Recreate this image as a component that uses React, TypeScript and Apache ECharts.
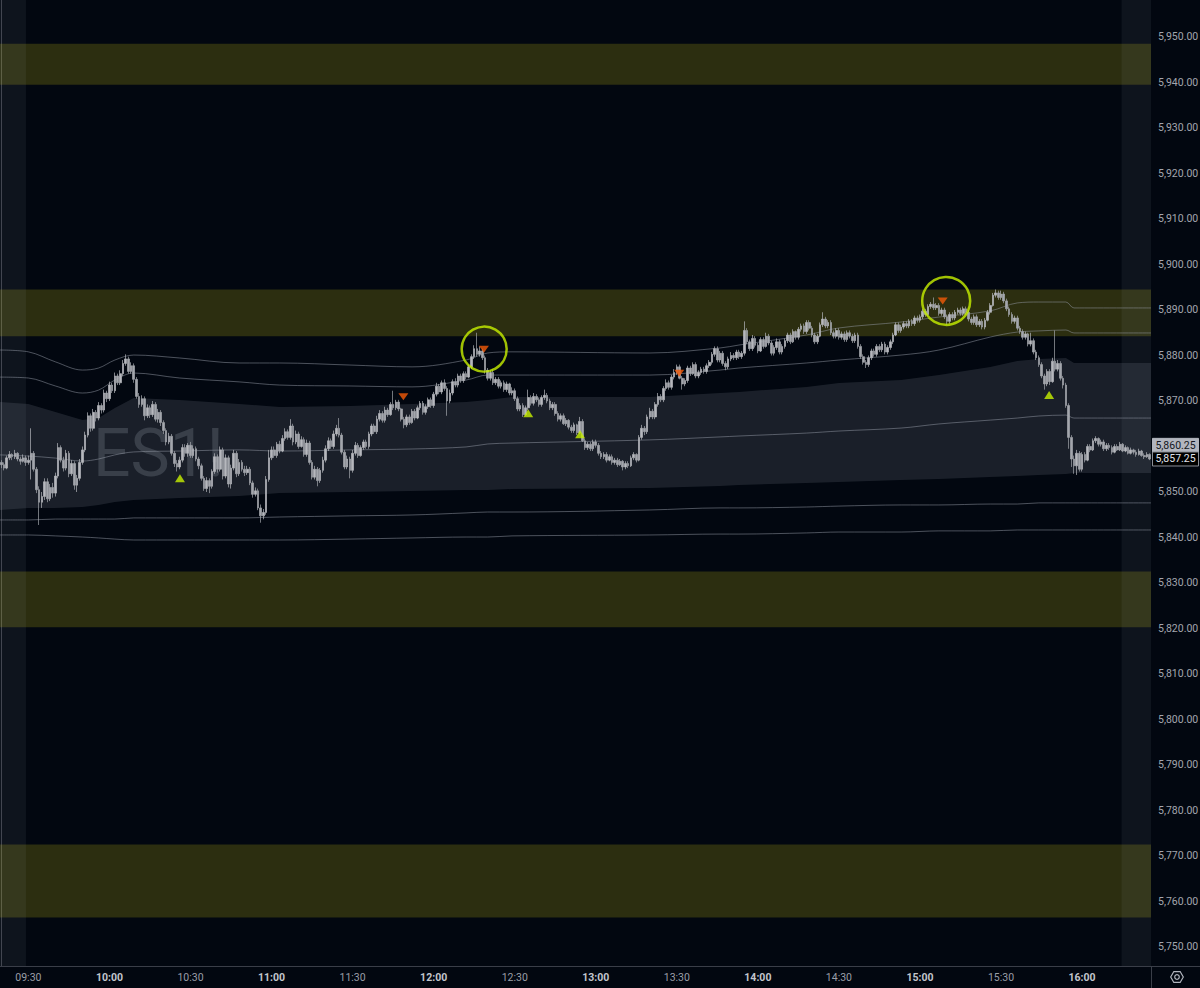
import React, { useEffect, useRef } from "react";
import * as echarts from "echarts";

// ---------- time axis ----------
const START_MINUTE = 9 * 60 + 20; // first bar 09:20
const BAR_COUNT = 426;            // 09:20 .. 16:25, 1-minute bars
const TIMES: string[] = Array.from({ length: BAR_COUNT }, (_, i) => {
  const m = START_MINUTE + i;
  return String(Math.floor(m / 60)).padStart(2, "0") + ":" + String(m % 60).padStart(2, "0");
});
const TICK_LABELS = ["09:30", "10:00", "10:30", "11:00", "11:30", "12:00", "12:30", "13:00", "13:30", "14:00", "14:30", "15:00", "15:30", "16:00"];

// ---------- 1-minute OHLC ----------
const OPEN = [
  5856.5, 5856.0, 5855.25, 5857.5, 5858.25, 5857.75, 5858.5, 5857.25, 5856.75, 5857.5,
  5856.5, 5857.0, 5858.5, 5855.0, 5850.5, 5847.75, 5849.0, 5852.25, 5848.5, 5851.0,
  5849.75, 5853.5, 5859.75, 5857.0, 5855.25, 5858.5, 5854.0, 5856.25, 5851.5, 5853.0,
  5856.5, 5859.25, 5862.5, 5866.75, 5864.0, 5867.5, 5866.25, 5869.0, 5868.0, 5871.75,
  5870.5, 5873.5, 5872.25, 5875.5, 5874.0, 5876.0, 5878.25, 5879.25, 5876.5, 5877.75,
  5874.75, 5871.0, 5869.25, 5870.5, 5866.75, 5868.5, 5867.0, 5869.25, 5866.0, 5867.5,
  5865.25, 5863.5, 5861.0, 5862.25, 5858.5, 5856.25, 5855.5, 5857.0, 5859.75, 5858.5,
  5860.25, 5858.0, 5859.5, 5857.25, 5855.75, 5853.0, 5850.75, 5852.5, 5851.25, 5854.5,
  5857.75, 5855.0, 5859.25, 5853.5, 5857.5, 5851.75, 5855.25, 5858.5, 5854.0, 5856.5,
  5855.0, 5854.25, 5855.0, 5852.0, 5849.5, 5850.25, 5846.5, 5844.75, 5845.5, 5852.75,
  5857.5, 5859.25, 5858.0, 5860.5, 5859.0, 5861.75, 5863.25, 5862.0, 5864.5, 5861.0,
  5862.75, 5860.0, 5861.5, 5858.25, 5860.75, 5856.5, 5853.25, 5855.0, 5852.5, 5854.75,
  5857.0, 5859.5, 5861.25, 5860.0, 5862.75, 5864.0, 5862.5, 5858.75, 5855.5, 5857.25,
  5854.75, 5858.5, 5860.25, 5858.0, 5859.75, 5861.0, 5860.0, 5862.75, 5864.5, 5863.25,
  5866.0, 5867.25, 5865.75, 5868.0, 5867.0, 5869.25, 5868.5, 5869.75, 5868.25, 5866.0,
  5864.75, 5866.5, 5865.25, 5867.75, 5866.25, 5868.5, 5869.5, 5867.5, 5868.75, 5870.25,
  5869.0, 5871.5, 5873.25, 5872.0, 5874.0, 5872.75, 5870.0, 5871.75, 5874.25, 5873.5,
  5875.5, 5874.5, 5876.0, 5875.25, 5877.5, 5879.75, 5881.5, 5880.25, 5881.0, 5879.5,
  5876.75, 5875.0, 5876.25, 5874.0, 5874.75, 5873.25, 5874.0, 5872.5, 5873.75, 5871.75,
  5872.25, 5870.5, 5868.25, 5869.0, 5867.0, 5868.5, 5870.75, 5869.5, 5871.0, 5870.25,
  5869.25, 5870.75, 5871.25, 5870.0, 5868.5, 5869.25, 5867.25, 5866.0, 5866.75, 5865.0,
  5865.75, 5864.25, 5863.5, 5864.75, 5863.0, 5865.5, 5861.25, 5859.75, 5860.5, 5859.5,
  5861.0, 5860.25, 5858.5, 5857.75, 5858.25, 5857.0, 5857.75, 5856.5, 5857.0, 5856.0,
  5856.75, 5855.5, 5856.25, 5855.75, 5857.5, 5858.25, 5857.0, 5862.0, 5864.0, 5863.25,
  5866.5, 5867.75, 5866.5, 5869.25, 5871.0, 5870.25, 5872.75, 5874.0, 5873.0, 5875.25,
  5876.25, 5877.5, 5875.0, 5873.75, 5874.5, 5877.25, 5876.0, 5878.0, 5875.5, 5876.25,
  5877.0, 5876.5, 5877.75, 5878.5, 5880.25, 5881.5, 5879.0, 5880.5, 5878.25, 5877.5,
  5879.25, 5880.0, 5879.5, 5880.75, 5879.75, 5880.5, 5885.5, 5883.0, 5881.5, 5883.75,
  5882.25, 5881.0, 5883.5, 5882.0, 5884.25, 5882.75, 5880.5, 5881.75, 5883.0, 5880.75,
  5882.0, 5883.25, 5884.5, 5883.0, 5885.25, 5884.0, 5885.75, 5886.5, 5885.25, 5887.25,
  5886.0, 5884.5, 5883.0, 5884.25, 5886.75, 5888.0, 5886.5, 5887.25, 5885.0, 5884.25,
  5885.5, 5884.0, 5884.75, 5883.5, 5885.0, 5884.25, 5883.25, 5884.5, 5882.0, 5879.75,
  5878.5, 5878.0, 5879.5, 5881.0, 5880.25, 5882.0, 5881.25, 5882.5, 5880.75, 5881.75,
  5883.0, 5884.5, 5886.75, 5885.5, 5886.25, 5887.0, 5886.5, 5887.5, 5887.0, 5888.25,
  5887.75, 5888.5, 5889.75, 5889.0, 5890.75, 5891.25, 5890.5, 5891.0, 5889.25, 5890.0,
  5888.5, 5887.5, 5889.0, 5888.25, 5889.5, 5890.0, 5889.25, 5890.25, 5889.5, 5888.0,
  5887.25, 5888.5, 5886.75, 5887.5, 5886.25, 5887.75, 5889.5, 5891.0, 5893.25, 5893.75,
  5892.75, 5893.5, 5892.0, 5890.25, 5889.0, 5887.5, 5888.25, 5886.0, 5885.25, 5884.0,
  5884.75, 5882.5, 5883.25, 5880.75, 5879.5, 5878.0, 5875.5, 5873.75, 5876.5, 5874.25,
  5878.75, 5877.0, 5878.25, 5875.0, 5873.5, 5869.0, 5862.0, 5857.25, 5855.75, 5858.5,
  5855.0, 5858.25, 5857.0, 5860.0, 5859.25, 5861.25, 5861.75, 5860.5, 5861.0, 5859.5,
  5860.25, 5859.75, 5858.75, 5860.0, 5859.25, 5860.5, 5859.0, 5859.75, 5858.5, 5859.25,
  5858.75, 5858.25, 5859.0, 5858.0, 5857.75, 5858.25,
];
const HIGH = [
  5857.0, 5856.5, 5858.0, 5859.0, 5858.5, 5859.25, 5858.75, 5857.75, 5858.25, 5858.0,
  5858.0, 5864.0, 5859.0, 5855.5, 5851.25, 5850.0, 5853.0, 5853.0, 5851.75, 5852.0,
  5854.25, 5860.75, 5860.25, 5857.75, 5859.25, 5859.0, 5857.0, 5856.75, 5853.75, 5857.25,
  5860.0, 5863.25, 5867.5, 5867.25, 5868.25, 5868.0, 5869.75, 5869.5, 5872.5, 5872.25,
  5874.25, 5874.0, 5876.25, 5876.0, 5876.75, 5879.0, 5880.25, 5879.75, 5878.5, 5878.25,
  5875.25, 5871.75, 5871.25, 5871.0, 5869.25, 5869.0, 5870.0, 5869.75, 5868.25, 5868.0,
  5865.75, 5864.0, 5863.0, 5862.75, 5859.0, 5857.0, 5857.75, 5860.5, 5860.5, 5860.75,
  5861.0, 5860.25, 5860.0, 5857.75, 5856.25, 5853.5, 5853.25, 5853.0, 5855.0, 5858.5,
  5858.25, 5860.0, 5859.75, 5858.25, 5858.0, 5856.0, 5859.25, 5859.0, 5857.25, 5857.0,
  5855.75, 5855.75, 5855.5, 5852.5, 5851.0, 5850.75, 5847.25, 5846.25, 5853.5, 5859.25,
  5860.0, 5860.0, 5861.0, 5861.25, 5862.5, 5864.0, 5863.75, 5866.0, 5865.0, 5863.5,
  5863.25, 5862.25, 5862.0, 5861.5, 5861.25, 5857.0, 5855.75, 5855.5, 5855.25, 5857.75,
  5860.25, 5862.0, 5861.75, 5863.5, 5864.75, 5866.25, 5863.0, 5859.25, 5858.0, 5857.75,
  5859.25, 5861.0, 5860.75, 5860.25, 5861.5, 5861.5, 5863.25, 5865.0, 5865.0, 5866.75,
  5868.0, 5867.75, 5868.75, 5868.5, 5869.75, 5872.25, 5870.25, 5870.25, 5868.5, 5866.5,
  5867.0, 5867.0, 5868.25, 5868.25, 5869.0, 5870.0, 5870.0, 5869.25, 5870.75, 5870.75,
  5872.0, 5874.0, 5873.75, 5874.5, 5874.75, 5873.25, 5872.5, 5874.75, 5875.0, 5876.0,
  5876.0, 5876.5, 5876.5, 5878.0, 5880.25, 5882.25, 5885.0, 5882.0, 5881.5, 5880.0,
  5877.25, 5876.75, 5877.0, 5875.25, 5875.25, 5874.5, 5874.5, 5874.25, 5874.0, 5873.0,
  5872.75, 5871.0, 5869.5, 5869.5, 5869.0, 5872.5, 5871.25, 5871.75, 5871.5, 5870.75,
  5871.25, 5872.5, 5871.75, 5870.5, 5869.75, 5869.75, 5867.75, 5867.25, 5867.25, 5866.25,
  5866.0, 5864.75, 5865.25, 5865.0, 5866.5, 5866.0, 5861.75, 5861.0, 5861.0, 5861.5,
  5861.5, 5860.75, 5859.0, 5858.75, 5858.75, 5858.25, 5858.25, 5857.5, 5857.5, 5857.25,
  5857.0, 5856.75, 5856.75, 5858.0, 5858.75, 5858.5, 5862.5, 5864.75, 5864.5, 5867.0,
  5868.5, 5868.25, 5869.75, 5871.75, 5871.5, 5873.25, 5874.75, 5874.5, 5875.75, 5877.0,
  5878.0, 5878.0, 5875.5, 5875.0, 5877.75, 5877.75, 5878.5, 5878.5, 5876.75, 5877.5,
  5877.5, 5878.25, 5879.0, 5880.75, 5882.0, 5882.0, 5881.0, 5881.0, 5878.75, 5879.75,
  5880.75, 5880.5, 5881.25, 5881.25, 5881.0, 5887.5, 5886.0, 5883.5, 5884.5, 5884.25,
  5882.75, 5884.0, 5884.0, 5885.0, 5884.75, 5883.25, 5882.25, 5883.75, 5883.5, 5882.5,
  5883.75, 5885.0, 5885.0, 5885.75, 5885.5, 5886.25, 5887.0, 5887.0, 5887.75, 5887.75,
  5886.5, 5885.0, 5884.75, 5887.25, 5889.5, 5888.5, 5887.75, 5887.75, 5885.5, 5886.0,
  5886.0, 5885.25, 5885.25, 5885.5, 5885.5, 5884.75, 5885.0, 5885.0, 5882.5, 5880.25,
  5879.0, 5880.0, 5881.5, 5881.5, 5882.5, 5882.5, 5883.0, 5883.0, 5882.25, 5883.5,
  5885.0, 5887.25, 5887.25, 5886.75, 5887.5, 5887.5, 5888.0, 5888.0, 5888.75, 5888.75,
  5889.0, 5890.25, 5890.25, 5891.25, 5891.75, 5892.75, 5891.5, 5891.5, 5890.5, 5890.5,
  5889.0, 5889.5, 5889.5, 5890.0, 5890.5, 5890.5, 5890.75, 5890.75, 5890.0, 5888.5,
  5889.0, 5889.0, 5888.0, 5888.0, 5888.25, 5890.0, 5891.5, 5893.75, 5894.5, 5894.25,
  5894.25, 5894.0, 5892.5, 5890.75, 5889.5, 5888.75, 5888.75, 5886.5, 5885.75, 5885.25,
  5885.0, 5885.0, 5883.75, 5881.25, 5880.0, 5878.5, 5876.0, 5877.0, 5877.0, 5879.5,
  5885.5, 5879.0, 5878.75, 5875.5, 5874.0, 5869.5, 5862.5, 5858.0, 5859.25, 5859.0,
  5858.75, 5858.75, 5860.5, 5860.5, 5861.75, 5862.25, 5862.0, 5861.5, 5861.5, 5860.75,
  5860.75, 5860.25, 5860.5, 5860.5, 5861.0, 5860.75, 5860.25, 5860.0, 5859.75, 5859.5,
  5859.25, 5859.5, 5859.25, 5858.5, 5858.75, 5858.5,
];
const LOW = [
  5855.25, 5854.75, 5855.0, 5857.0, 5857.0, 5857.25, 5856.75, 5856.0, 5856.5, 5855.75,
  5856.0, 5852.75, 5854.5, 5849.75, 5842.75, 5846.5, 5848.25, 5847.75, 5848.0, 5848.75,
  5849.0, 5853.0, 5856.5, 5854.5, 5854.75, 5853.25, 5853.5, 5850.5, 5850.0, 5852.5,
  5856.0, 5858.75, 5862.0, 5863.25, 5863.5, 5865.5, 5865.75, 5867.25, 5867.5, 5869.75,
  5870.0, 5871.75, 5871.75, 5873.5, 5873.5, 5875.5, 5877.75, 5876.0, 5876.0, 5874.0,
  5870.5, 5868.5, 5868.75, 5865.75, 5866.25, 5866.25, 5866.5, 5865.5, 5865.25, 5864.5,
  5862.75, 5860.25, 5860.5, 5858.0, 5855.5, 5854.5, 5855.0, 5856.5, 5857.75, 5857.75,
  5857.5, 5857.5, 5856.75, 5855.0, 5852.5, 5850.25, 5850.0, 5849.75, 5850.75, 5854.0,
  5854.25, 5854.5, 5852.75, 5853.0, 5851.0, 5850.75, 5854.75, 5853.25, 5853.5, 5854.5,
  5853.5, 5853.75, 5851.5, 5848.75, 5849.0, 5846.0, 5843.25, 5844.0, 5845.0, 5852.25,
  5857.0, 5857.5, 5857.5, 5858.5, 5858.75, 5861.25, 5861.5, 5861.5, 5860.25, 5860.5,
  5859.5, 5859.75, 5857.75, 5857.75, 5856.0, 5852.75, 5852.75, 5851.25, 5852.0, 5854.25,
  5856.5, 5859.0, 5859.5, 5859.5, 5862.25, 5862.0, 5858.25, 5855.0, 5855.0, 5853.0,
  5854.25, 5858.0, 5857.5, 5857.75, 5859.25, 5859.5, 5859.5, 5862.25, 5862.75, 5862.75,
  5865.5, 5865.25, 5865.25, 5866.5, 5866.75, 5868.0, 5868.0, 5867.75, 5865.5, 5864.0,
  5864.25, 5864.75, 5865.0, 5865.75, 5866.0, 5868.0, 5867.0, 5867.0, 5868.25, 5868.5,
  5868.5, 5871.0, 5871.5, 5871.5, 5872.25, 5866.75, 5869.5, 5871.25, 5873.0, 5873.0,
  5874.0, 5874.0, 5874.75, 5875.0, 5877.0, 5879.25, 5879.75, 5879.75, 5879.0, 5876.0,
  5874.5, 5874.5, 5873.5, 5873.5, 5872.75, 5872.75, 5872.0, 5872.0, 5871.25, 5871.25,
  5870.0, 5867.75, 5867.75, 5866.5, 5866.75, 5868.0, 5869.0, 5869.0, 5869.75, 5868.75,
  5868.75, 5870.25, 5869.5, 5868.0, 5868.0, 5866.75, 5865.5, 5865.5, 5864.75, 5864.5,
  5863.75, 5863.0, 5863.0, 5862.5, 5862.75, 5861.0, 5859.25, 5859.25, 5859.0, 5859.0,
  5859.75, 5858.0, 5857.25, 5857.25, 5856.5, 5856.75, 5856.0, 5856.0, 5855.5, 5855.75,
  5854.75, 5855.0, 5855.25, 5855.5, 5857.0, 5856.5, 5856.75, 5861.5, 5862.5, 5862.75,
  5866.0, 5866.0, 5866.0, 5868.75, 5869.75, 5869.75, 5872.25, 5872.5, 5872.5, 5874.75,
  5875.75, 5874.75, 5872.5, 5873.25, 5874.0, 5875.5, 5875.75, 5875.0, 5875.0, 5875.75,
  5876.0, 5876.0, 5877.25, 5878.0, 5879.75, 5878.5, 5878.5, 5877.75, 5876.75, 5877.0,
  5878.75, 5879.0, 5879.0, 5879.25, 5879.25, 5880.0, 5882.5, 5881.0, 5881.0, 5881.75,
  5880.5, 5880.75, 5881.5, 5881.75, 5882.25, 5880.0, 5880.0, 5881.25, 5880.25, 5880.25,
  5881.5, 5882.75, 5882.5, 5882.75, 5883.5, 5883.5, 5885.25, 5884.75, 5884.75, 5885.5,
  5884.0, 5882.5, 5882.5, 5884.0, 5886.25, 5886.0, 5886.0, 5884.5, 5883.75, 5883.75,
  5883.5, 5883.5, 5883.0, 5883.0, 5883.75, 5882.75, 5882.75, 5881.5, 5879.25, 5878.0,
  5877.25, 5877.5, 5879.0, 5879.75, 5879.75, 5880.75, 5880.75, 5880.25, 5880.25, 5881.25,
  5882.5, 5884.25, 5885.0, 5885.0, 5885.75, 5886.0, 5886.0, 5886.5, 5886.5, 5887.25,
  5887.25, 5888.0, 5888.5, 5888.75, 5890.25, 5890.0, 5890.0, 5888.75, 5888.75, 5888.0,
  5886.75, 5887.0, 5887.75, 5887.75, 5889.0, 5888.75, 5888.75, 5889.0, 5887.5, 5886.75,
  5886.75, 5886.25, 5886.25, 5885.75, 5885.75, 5887.5, 5889.0, 5890.75, 5892.75, 5892.25,
  5892.25, 5891.5, 5889.75, 5888.5, 5887.0, 5887.0, 5885.5, 5884.75, 5883.5, 5883.5,
  5882.0, 5882.0, 5880.25, 5879.0, 5877.5, 5875.0, 5872.5, 5873.25, 5873.5, 5874.0,
  5876.5, 5876.5, 5874.5, 5872.75, 5868.5, 5859.5, 5855.5, 5854.0, 5853.75, 5854.5,
  5854.5, 5856.5, 5856.75, 5858.75, 5859.0, 5860.75, 5860.0, 5860.0, 5859.0, 5859.0,
  5859.25, 5858.25, 5858.5, 5859.0, 5859.0, 5858.75, 5858.75, 5858.25, 5858.25, 5858.25,
  5857.75, 5858.0, 5857.75, 5857.25, 5857.5, 5857.0,
];
const CLOSE = [
  5856.0, 5855.25, 5857.5, 5858.25, 5857.75, 5858.5, 5857.25, 5856.75, 5857.5, 5856.5,
  5857.0, 5858.5, 5855.0, 5850.5, 5847.75, 5849.0, 5852.25, 5848.5, 5851.0, 5849.75,
  5853.5, 5859.75, 5857.0, 5855.25, 5858.5, 5854.0, 5856.25, 5851.5, 5853.0, 5856.5,
  5859.25, 5862.5, 5866.75, 5864.0, 5867.5, 5866.25, 5869.0, 5868.0, 5871.75, 5870.5,
  5873.5, 5872.25, 5875.5, 5874.0, 5876.0, 5878.25, 5879.25, 5876.5, 5877.75, 5874.75,
  5871.0, 5869.25, 5870.5, 5866.75, 5868.5, 5867.0, 5869.25, 5866.0, 5867.5, 5865.25,
  5863.5, 5861.0, 5862.25, 5858.5, 5856.25, 5855.5, 5857.0, 5859.75, 5858.5, 5860.25,
  5858.0, 5859.5, 5857.25, 5855.75, 5853.0, 5850.75, 5852.5, 5851.25, 5854.5, 5857.75,
  5855.0, 5859.25, 5853.5, 5857.5, 5851.75, 5855.25, 5858.5, 5854.0, 5856.5, 5855.0,
  5854.25, 5855.0, 5852.0, 5849.5, 5850.25, 5846.5, 5844.75, 5845.5, 5852.75, 5857.5,
  5859.25, 5858.0, 5860.5, 5859.0, 5861.75, 5863.25, 5862.0, 5864.5, 5861.0, 5862.75,
  5860.0, 5861.5, 5858.25, 5860.75, 5856.5, 5853.25, 5855.0, 5852.5, 5854.75, 5857.0,
  5859.5, 5861.25, 5860.0, 5862.75, 5864.0, 5862.5, 5858.75, 5855.5, 5857.25, 5854.75,
  5858.5, 5860.25, 5858.0, 5859.75, 5861.0, 5860.0, 5862.75, 5864.5, 5863.25, 5866.0,
  5867.25, 5865.75, 5868.0, 5867.0, 5869.25, 5868.5, 5869.75, 5868.25, 5866.0, 5864.75,
  5866.5, 5865.25, 5867.75, 5866.25, 5868.5, 5869.5, 5867.5, 5868.75, 5870.25, 5869.0,
  5871.5, 5873.25, 5872.0, 5874.0, 5872.75, 5870.0, 5871.75, 5874.25, 5873.5, 5875.5,
  5874.5, 5876.0, 5875.25, 5877.5, 5879.75, 5881.5, 5880.25, 5881.0, 5879.5, 5876.75,
  5875.0, 5876.25, 5874.0, 5874.75, 5873.25, 5874.0, 5872.5, 5873.75, 5871.75, 5872.25,
  5870.5, 5868.25, 5869.0, 5867.0, 5868.5, 5870.75, 5869.5, 5871.0, 5870.25, 5869.25,
  5870.75, 5871.25, 5870.0, 5868.5, 5869.25, 5867.25, 5866.0, 5866.75, 5865.0, 5865.75,
  5864.25, 5863.5, 5864.75, 5863.0, 5865.5, 5861.25, 5859.75, 5860.5, 5859.5, 5861.0,
  5860.25, 5858.5, 5857.75, 5858.25, 5857.0, 5857.75, 5856.5, 5857.0, 5856.0, 5856.75,
  5855.5, 5856.25, 5855.75, 5857.5, 5858.25, 5857.0, 5862.0, 5864.0, 5863.25, 5866.5,
  5867.75, 5866.5, 5869.25, 5871.0, 5870.25, 5872.75, 5874.0, 5873.0, 5875.25, 5876.25,
  5877.5, 5875.0, 5873.75, 5874.5, 5877.25, 5876.0, 5878.0, 5875.5, 5876.25, 5877.0,
  5876.5, 5877.75, 5878.5, 5880.25, 5881.5, 5879.0, 5880.5, 5878.25, 5877.5, 5879.25,
  5880.0, 5879.5, 5880.75, 5879.75, 5880.5, 5885.5, 5883.0, 5881.5, 5883.75, 5882.25,
  5881.0, 5883.5, 5882.0, 5884.25, 5882.75, 5880.5, 5881.75, 5883.0, 5880.75, 5882.0,
  5883.25, 5884.5, 5883.0, 5885.25, 5884.0, 5885.75, 5886.5, 5885.25, 5887.25, 5886.0,
  5884.5, 5883.0, 5884.25, 5886.75, 5888.0, 5886.5, 5887.25, 5885.0, 5884.25, 5885.5,
  5884.0, 5884.75, 5883.5, 5885.0, 5884.25, 5883.25, 5884.5, 5882.0, 5879.75, 5878.5,
  5878.0, 5879.5, 5881.0, 5880.25, 5882.0, 5881.25, 5882.5, 5880.75, 5881.75, 5883.0,
  5884.5, 5886.75, 5885.5, 5886.25, 5887.0, 5886.5, 5887.5, 5887.0, 5888.25, 5887.75,
  5888.5, 5889.75, 5889.0, 5890.75, 5891.25, 5890.5, 5891.0, 5889.25, 5890.0, 5888.5,
  5887.5, 5889.0, 5888.25, 5889.5, 5890.0, 5889.25, 5890.25, 5889.5, 5888.0, 5887.25,
  5888.5, 5886.75, 5887.5, 5886.25, 5887.75, 5889.5, 5891.0, 5893.25, 5893.75, 5892.75,
  5893.5, 5892.0, 5890.25, 5889.0, 5887.5, 5888.25, 5886.0, 5885.25, 5884.0, 5884.75,
  5882.5, 5883.25, 5880.75, 5879.5, 5878.0, 5875.5, 5873.75, 5876.5, 5874.25, 5878.75,
  5877.0, 5878.25, 5875.0, 5873.5, 5869.0, 5862.0, 5857.25, 5855.75, 5858.5, 5855.0,
  5858.25, 5857.0, 5860.0, 5859.25, 5861.25, 5861.75, 5860.5, 5861.0, 5859.5, 5860.25,
  5859.75, 5858.75, 5860.0, 5859.25, 5860.5, 5859.0, 5859.75, 5858.5, 5859.25, 5858.75,
  5858.25, 5859.0, 5858.0, 5857.75, 5858.25, 5857.25,
];

// ---------- VWAP and deviation bands (sampled at bar positions) ----------
const BAND_X = [-0.5, 10, 20, 30, 36, 42, 49, 66, 88, 103, 129, 152, 172, 180, 189, 240, 266, 273, 298, 310, 333, 347, 366, 376, 384, 394, 397, 425.5];
const UPPER_OUTER = [5881.2, 5880.8, 5878.6, 5876.8, 5877.25, 5879.0, 5880.1, 5879.45, 5878.35, 5878.35, 5877.9, 5877.5, 5879.0, 5880.55, 5880.8, 5880.55, 5881.65, 5882.3, 5884.5, 5886.05, 5887.35, 5888.45, 5889.8, 5891.55, 5891.75, 5891.75, 5890.45, 5890.45];
const UPPER_INNER = [5875.25, 5875.05, 5873.3, 5871.75, 5872.4, 5874.6, 5876.15, 5875.05, 5874.2, 5873.5, 5873.3, 5873.1, 5874.6, 5875.7, 5875.7, 5875.7, 5876.8, 5877.25, 5878.35, 5879.0, 5880.1, 5881.2, 5884.05, 5885.15, 5885.4, 5885.6, 5884.95, 5884.95];
const BAND_TOP = [5869.8, 5869.35, 5867.6, 5865.8, 5866.25, 5868.45, 5870.65, 5870.2, 5869.35, 5868.7, 5868.9, 5869.35, 5869.8, 5870.2, 5870.9, 5870.9, 5871.75, 5872.0, 5873.1, 5873.95, 5874.6, 5875.7, 5877.45, 5878.8, 5879.25, 5879.45, 5878.35, 5878.35];
const VWAP = [5858.15, 5857.9, 5857.45, 5856.8, 5857.25, 5858.15, 5858.8, 5859.0, 5859.25, 5859.0, 5859.25, 5859.45, 5859.9, 5860.55, 5860.75, 5861.45, 5862.1, 5862.3, 5862.95, 5863.4, 5864.05, 5864.95, 5865.8, 5866.25, 5866.7, 5866.9, 5866.25, 5866.25];
const BAND_BOTTOM = [5846.05, 5846.5, 5846.5, 5846.7, 5847.15, 5847.8, 5848.25, 5848.7, 5849.1, 5849.8, 5850.0, 5850.2, 5850.45, 5850.45, 5850.65, 5850.9, 5851.3, 5851.55, 5852.0, 5852.2, 5852.65, 5852.85, 5853.3, 5853.5, 5853.75, 5853.95, 5854.2, 5854.2];
const LOWER_INNER = [5843.85, 5843.85, 5844.05, 5844.05, 5844.05, 5844.05, 5844.3, 5844.3, 5844.3, 5844.5, 5844.75, 5844.95, 5845.4, 5845.6, 5845.6, 5846.05, 5846.5, 5846.5, 5846.7, 5846.9, 5847.15, 5847.15, 5847.35, 5847.35, 5847.6, 5847.6, 5847.6, 5847.6];
const LOWER_OUTER = [5840.55, 5840.55, 5840.35, 5840.1, 5839.9, 5839.65, 5839.45, 5839.45, 5839.45, 5839.45, 5839.65, 5839.9, 5840.1, 5840.1, 5840.35, 5840.55, 5840.75, 5840.75, 5841.0, 5841.2, 5841.2, 5841.45, 5841.45, 5841.65, 5841.65, 5841.65, 5841.65, 5841.65];

// ---------- markers ----------
const BUY_MARKS = [[66.1, 5853.0], [195.0, 5867.3], [214.2, 5862.7], [387.8, 5871.3]];
const SELL_MARKS = [[148.8, 5870.95], [178.6, 5881.35], [250.9, 5876.1], [348.4, 5892.0]];
const CIRCLE_MARKS = [[178.7, 5881.4, 45], [349.7, 5892.0, 48]];

// ---------- zones / sessions / price tags ----------
const YELLOW_ZONES = [[5948.5, 5939.5], [5894.5, 5884.25], [5832.5, 5820.25], [5772.5, 5756.5]];
const OFF_SESSIONS = [[-0.5, 9.1], [414.6, 425.5]];
const PRICE_TAGS = [
  { value: 5860.25, kind: "ref" },
  { value: 5857.25, kind: "last" },
];
const COVERED_AXIS_LABELS = [5860]; // hidden under the price tags
const Y_MIN = 5745.82;
const Y_MAX = 5958.13;

const BG = "#020710";
const AXIS_LINE = "#3a3e48";
const BAND_LINE = "rgba(150,156,168,0.5)";
const FONT = "Roboto, 'Noto Sans', sans-serif";

function fmtPrice(v: number): string {
  return v.toLocaleString("en-US", { minimumFractionDigits: 2, maximumFractionDigits: 2 });
}

export default function App() {
  const ref = useRef<HTMLDivElement>(null);

  useEffect(() => {
    document.body.style.margin = "0";
    document.body.style.background = BG;
    const chart = echarts.init(ref.current as HTMLDivElement, undefined, { renderer: "svg", width: 1200, height: 988 });

    const candles = CLOSE.map((c, i) => [OPEN[i], c, LOW[i], HIGH[i]]);
    const pts = (arr: number[]) => BAND_X.map((x, k) => [x, arr[k]]);
    const bandLine = (name: string, arr: number[]) => ({
      name,
      type: "line",
      xAxisIndex: 1,
      yAxisIndex: 0,
      data: pts(arr),
      showSymbol: false,
      symbol: "none",
      smooth: 0.35,
      silent: true,
      z: 2,
      lineStyle: { color: BAND_LINE, width: 1 },
    });

    const hex: number[][] = [];
    for (let k = 0; k < 6; k++) {
      const a = (k * Math.PI) / 3;
      hex.push([1177 + 6.3 * Math.cos(a), 977 + 6.3 * Math.sin(a)]);
    }

    const option: any = {
      animation: false,
      backgroundColor: BG,
      grid: { left: 0, right: 49, top: 0, bottom: 22, containLabel: false, outerBoundsMode: "none" },
      xAxis: [
        {
          type: "category",
          data: TIMES,
          boundaryGap: true,
          axisLine: { show: true, lineStyle: { color: AXIS_LINE, width: 1 } },
          axisTick: { show: false },
          splitLine: { show: false },
          axisLabel: {
            interval: (_idx: number, val: string) => TICK_LABELS.indexOf(val) >= 0,
            formatter: (val: string) => (val.endsWith(":00") ? "{h|" + val + "}" : "{m|" + val + "}"),
            margin: 6,
            rich: {
              h: { color: "#c2c5cd", fontWeight: "bold", fontSize: 10.5, fontFamily: FONT },
              m: { color: "#9a9ea7", fontSize: 10.5, fontFamily: FONT },
            },
          },
        },
        { type: "value", min: -0.5, max: 425.5, show: false },
      ],
      yAxis: [
        {
          type: "value",
          position: "right",
          min: Y_MIN,
          max: Y_MAX,
          splitNumber: 21,
          minInterval: 10,
          maxInterval: 10,
          scale: true,
          axisLine: { show: true, lineStyle: { color: AXIS_LINE, width: 1 } },
          axisTick: { show: false },
          splitLine: { show: false },
          axisLabel: {
            showMinLabel: false,
            showMaxLabel: false,
            formatter: (v: number) => (COVERED_AXIS_LABELS.some((c) => Math.abs(c - v) < 0.01) ? "" : fmtPrice(v)),
            color: "#a3a6ae",
            fontSize: 10.5,
            fontFamily: FONT,
            margin: 7,
          },
        },
      ],
      graphic: [
        {
          id: "watermark",
          type: "text",
          z: 0,
          silent: true,
          style: {
            x: 93,
            y: 453,
            text: "ES1!",
            fontSize: 66,
            fontFamily: FONT,
            fill: "rgba(190,198,215,0.2)",
            verticalAlign: "middle",
            align: "left",
          },
        },
        { id: "xline-ext", type: "line", z: 10, silent: true, shape: { x1: 1151, y1: 966.5, x2: 1200, y2: 966.5 }, style: { stroke: AXIS_LINE, lineWidth: 1 } },
        { id: "yline-ext", type: "line", z: 10, silent: true, shape: { x1: 1151.5, y1: 966, x2: 1151.5, y2: 988 }, style: { stroke: AXIS_LINE, lineWidth: 1 } },
        { id: "gear-hex", type: "polygon", z: 10, silent: true, shape: { points: hex }, style: { fill: "none", stroke: "#b2b5be", lineWidth: 1.2 } },
        { id: "gear-dot", type: "circle", z: 10, silent: true, shape: { cx: 1177, cy: 977, r: 2.3 }, style: { fill: "none", stroke: "#b2b5be", lineWidth: 1.2 } },
      ],
      series: [
        {
          name: "band",
          type: "custom",
          xAxisIndex: 1,
          yAxisIndex: 0,
          z: 1,
          silent: true,
          data: [[200, 5860]],
          encode: { x: 0, y: 1 },
          renderItem: (params: any, api: any) => {
            if (params.dataIndex !== 0) return null;
            const top = BAND_X.map((x, k) => api.coord([x, BAND_TOP[k]]));
            const bottom = BAND_X.map((x, k) => api.coord([x, BAND_BOTTOM[k]])).reverse();
            return {
              type: "polygon",
              shape: { points: top.concat(bottom) },
              style: { fill: "rgba(150,156,168,0.17)" },
            };
          },
          markArea: {
            silent: true,
            z: 1,
            data: [
              ...YELLOW_ZONES.map(([a, b]) => [
                { yAxis: a, itemStyle: { color: "rgba(215,205,20,0.2)" } },
                { yAxis: b },
              ]),
              ...OFF_SESSIONS.map(([a, b]) => [
                { xAxis: a, itemStyle: { color: "rgba(150,160,178,0.085)" } },
                { xAxis: b },
              ]),
            ],
          },
        },
        bandLine("upper2", UPPER_OUTER),
        bandLine("upper1", UPPER_INNER),
        bandLine("vwap", VWAP),
        bandLine("lower1", LOWER_INNER),
        bandLine("lower2", LOWER_OUTER),
        {
          name: "ES1!",
          type: "candlestick",
          xAxisIndex: 0,
          yAxisIndex: 0,
          z: 3,
          silent: true,
          barWidth: 2.1,
          data: candles,
          itemStyle: {
            color: "#b6b8bd",
            color0: "#a3a6ac",
            borderColor: "#b6b8bd",
            borderColor0: "#a3a6ac",
            borderWidth: 0.7,
          },
        },
        {
          name: "buy",
          type: "scatter",
          xAxisIndex: 1,
          yAxisIndex: 0,
          z: 4,
          silent: true,
          symbol: "triangle",
          symbolSize: [10, 8],
          data: BUY_MARKS,
          itemStyle: { color: "#c8f000" },
        },
        {
          name: "sell",
          type: "scatter",
          xAxisIndex: 1,
          yAxisIndex: 0,
          z: 4,
          silent: true,
          symbol: "triangle",
          symbolRotate: 180,
          symbolSize: [10, 7],
          data: SELL_MARKS,
          itemStyle: { color: "#f25a08" },
        },
        {
          name: "circles",
          type: "scatter",
          xAxisIndex: 1,
          yAxisIndex: 0,
          z: 4,
          silent: true,
          symbol: "circle",
          symbolSize: (v: number[]) => v[2],
          data: CIRCLE_MARKS,
          itemStyle: { color: "rgba(0,0,0,0)", borderColor: "#c8f000", borderWidth: 2.5 },
        },
      ],
    };

    chart.setOption(option);

    // price tags on the price scale, positioned through the y axis
    const tagEls: any[] = [];
    PRICE_TAGS.forEach((t, k) => {
      const y = chart.convertToPixel({ yAxisIndex: 0 }, t.value) as number;
      const isRef = t.kind === "ref";
      tagEls.push({
        id: "tag-box-" + k,
        type: "rect",
        z: 20,
        silent: true,
        shape: { x: 1152.5, y: y - 7, width: 46, height: 14 },
        style: {
          fill: isRef ? "#b2b5be" : "#000000",
          stroke: isRef ? "#b2b5be" : "#8b8e96",
          lineWidth: 1,
        },
      });
      tagEls.push({
        id: "tag-text-" + k,
        type: "text",
        z: 21,
        silent: true,
        style: {
          x: 1175.5,
          y: y,
          text: fmtPrice(t.value),
          fontSize: 10.5,
          fontFamily: FONT,
          fill: isRef ? "#131722" : "#e0e3eb",
          align: "center",
          verticalAlign: "middle",
        },
      });
    });
    chart.setOption({ graphic: tagEls });

    return () => chart.dispose();
  }, []);

  return <div ref={ref} style={{ width: 1200, height: 988 }} />;
}
